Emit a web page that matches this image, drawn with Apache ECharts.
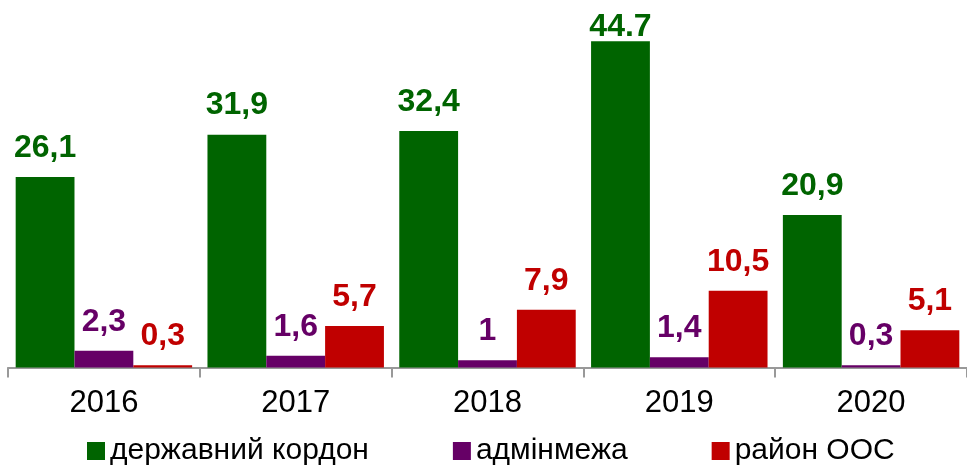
<!DOCTYPE html>
<html>
<head>
<meta charset="utf-8">
<script src="https://cdn.jsdelivr.net/npm/echarts@6/dist/echarts.min.js"></script>
<style>
  html, body { margin: 0; padding: 0; background: #fff; }
  #chart { width: 967px; height: 465px; }
</style>
</head>
<body>
<div id="chart"></div>
<script>
// роки
const years = ['2016', '2017', '2018', '2019', '2020'];

// значення по серіях
const border = [26.1, 31.9, 32.4, 44.7, 20.9];
const adminLine = [2.3, 1.6, 1, 1.4, 0.3];
const oosArea = [0.3, 5.7, 7.9, 10.5, 5.1];

// підписи над стовпчиками (як на картинці)
const borderText = ['26,1', '31,9', '32,4', '44.7', '20,9'];
const adminText = ['2,3', '1,6', '1', '1,4', '0,3'];
const oosText = ['0,3', '5,7', '7,9', '10,5', '5,1'];

const seriesNames = ['державний кордон', 'адмінмежа', 'район ООС'];
const colors = ['#006400', '#660066', '#c00000'];

const chart = echarts.init(document.getElementById('chart'));

function makeSeries(name, values, texts, color) {
    const top = Math.max.apply(null, border);
    return {
        name: name,
        type: 'bar',
        barGap: '0%',
        barCategoryGap: '8%',
        itemStyle: { color: color },
        label: {
            show: true,
            position: 'top',
            distance: 13,
            color: color,
            fontFamily: 'Liberation Sans',
            fontWeight: 'bold',
            fontSize: 32,
            formatter: p => texts[p.dataIndex]
        },
        data: values.map(v => v === top ? { value: v, label: { distance: -2 } } : v)
    };
}

const option = {
    animation: false,
    color: colors,
    grid: {
        left: 8,
        right: -5,
        top: 2.5,
        bottom: 97.5
    },
    legend: {
        data: seriesNames,
        left: 82,
        top: 431,
        icon: 'rect',
        itemWidth: 18,
        itemHeight: 18,
        itemGap: 84,
        textStyle: {
            color: '#000',
            fontFamily: 'Liberation Sans',
            fontSize: 30
        }
    },
    xAxis: {
        type: 'category',
        data: years,
        axisLine: { lineStyle: { color: '#999', width: 2 } },
        axisTick: { show: true, length: 10, lineStyle: { color: '#999', width: 2 } },
        axisLabel: {
            color: '#000',
            fontFamily: 'Liberation Sans',
            fontSize: 31,
            margin: 20
        }
    },
    yAxis: {
        type: 'value',
        min: 0,
        max: 50,
        show: false,
        splitLine: { show: false }
    },
    series: [
        makeSeries(seriesNames[0], border, borderText, colors[0]),
        makeSeries(seriesNames[1], adminLine, adminText, colors[1]),
        makeSeries(seriesNames[2], oosArea, oosText, colors[2])
    ]
};

chart.setOption(option);
</script>
</body>
</html>
